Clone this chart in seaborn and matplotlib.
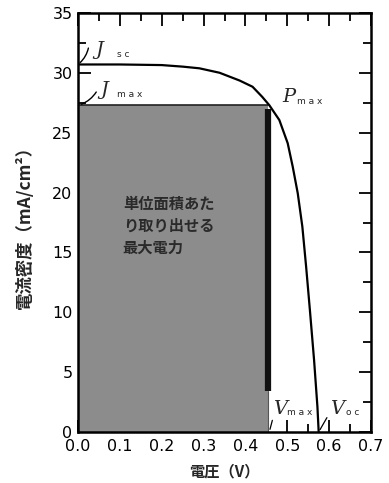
import numpy as np
import pandas as pd
import matplotlib
matplotlib.use("Agg")
import matplotlib.pyplot as plt
import seaborn as sns

# Data
voltage = [0.0, 0.1, 0.2, 0.219, 0.25, 0.29, 0.338, 0.386, 0.417, 0.44, 0.457, 0.481,
           0.501, 0.513, 0.525, 0.536, 0.545, 0.554, 0.564, 0.572, 0.575]
current = [30.7, 30.7, 30.65, 30.6, 30.52, 30.38, 30.01, 29.36, 28.84, 28.0, 27.3, 26.06,
           24.12, 22.16, 19.94, 17.15, 13.81, 10.19, 6.01, 2.11, 0.0]
v_max = 0.455
j_max = 27.3
j_sc = 30.7
v_oc = 0.575
x_ticks = [0.0, 0.1, 0.2, 0.3, 0.4, 0.5, 0.6, 0.7]
x_ticklabels = ["0.0", "0.1", "0.2", "0.3", "0.4", "0.5", "0.6", "0.7"]
y_ticks = [0, 5, 10, 15, 20, 25, 30, 35]
y_ticklabels = ["0", "5", "10", "15", "20", "25", "30", "35"]

sns.set_style("ticks")
plt.rcParams['font.family'] = ['Noto Sans CJK JP', 'DejaVu Sans']

fig = plt.figure(figsize=(3.89, 4.83), dpi=100)
ax = fig.add_axes([78/389, 1-432/483, (371-78)/389, (432-13)/483])

df = pd.DataFrame({"V": voltage, "J": current})

# shaded max power rectangle
ax.fill_between([0, v_max], 0, j_max, color="#8c8c8c", zorder=1, linewidth=0)
ax.plot([0, v_max], [j_max, j_max], color="#222222", lw=1.2, zorder=2)
ax.plot([v_max, v_max], [3.4, j_max - 0.3], color="#111111", lw=4.5, zorder=2, solid_capstyle="butt")
ax.plot([v_max, v_max], [0, 3.4], color="#555555", lw=0.8, zorder=2)

sns.lineplot(data=df, x="V", y="J", ax=ax, color="black", lw=1.6, zorder=3, sort=False)

ax.set_xlim(0, 0.7)
ax.set_ylim(0, 35)
ax.set_xticks(x_ticks)
ax.set_xticklabels(x_ticklabels, fontsize=11.5, family="DejaVu Sans")
ax.set_yticks(y_ticks)
ax.set_yticklabels(y_ticklabels, fontsize=11.5, family="DejaVu Sans")
ax.set_xticks(np.arange(0, 0.701, 0.05), minor=True)
ax.set_yticks(np.arange(0, 35.1, 2.5), minor=True)
ax.tick_params(which="both", direction="in", top=True, right=True, width=1.3, colors="black")
ax.tick_params(which="major", length=9)
ax.tick_params(which="minor", length=6)
ax.tick_params(axis="x", pad=5)
ax.tick_params(axis="y", pad=4)
for s in ax.spines.values():
    s.set_linewidth(1.8)
    s.set_color("black")

ax.set_xlabel("電圧（V）", fontsize=11, fontweight="bold", labelpad=7)
ax.set_ylabel("電流密度（mA/cm²）", fontsize=12.5, fontweight="bold", labelpad=13)

ax.text(0.107, 17.2, "単位面積あた\nり取り出せる\n最大電力", fontsize=11,
        fontweight="bold", color="#2a2a2a", ha="left", va="center", linespacing=1.45, zorder=4)

ser = {"family": "DejaVu Serif", "style": "italic"}
sub = {"fontsize": 6.5, "family": "DejaVu Sans"}
ax.text(0.041, 31.5, "J", fontsize=14, va="baseline", **ser)
ax.text(0.093, 31.3, "s c", va="baseline", **sub)
ax.annotate("", xy=(0.0, j_sc), xytext=(0.026, 32.3),
            arrowprops=dict(arrowstyle="-", color="black", lw=1, connectionstyle="arc3,rad=-0.2"))
ax.text(0.0525, 28.15, "J", fontsize=14, va="baseline", **ser)
ax.text(0.093, 27.98, "m a x", va="baseline", **sub)
ax.annotate("", xy=(0.002, j_max), xytext=(0.047, 28.6),
            arrowprops=dict(arrowstyle="-", color="black", lw=1, connectionstyle="arc3,rad=-0.2"))
ax.text(0.487, 27.56, "P", fontsize=14, va="baseline", **ser)
ax.text(0.523, 27.4, "m a x", va="baseline", **sub)
ax.text(0.466, 1.5, "V", fontsize=14, va="baseline", **ser)
ax.text(0.499, 1.4, "m a x", va="baseline", **sub)
ax.text(0.602, 1.5, "V", fontsize=14, va="baseline", **ser)
ax.text(0.640, 1.4, "o c", va="baseline", **sub)
ax.annotate("", xy=(v_max + 0.002, 0), xytext=(0.466, 1.2),
            arrowprops=dict(arrowstyle="-", color="black", lw=0.9))
ax.annotate("", xy=(v_oc, 0), xytext=(0.598, 1.4),
            arrowprops=dict(arrowstyle="-", color="black", lw=0.9))

fig.savefig("out.png", dpi=100)
